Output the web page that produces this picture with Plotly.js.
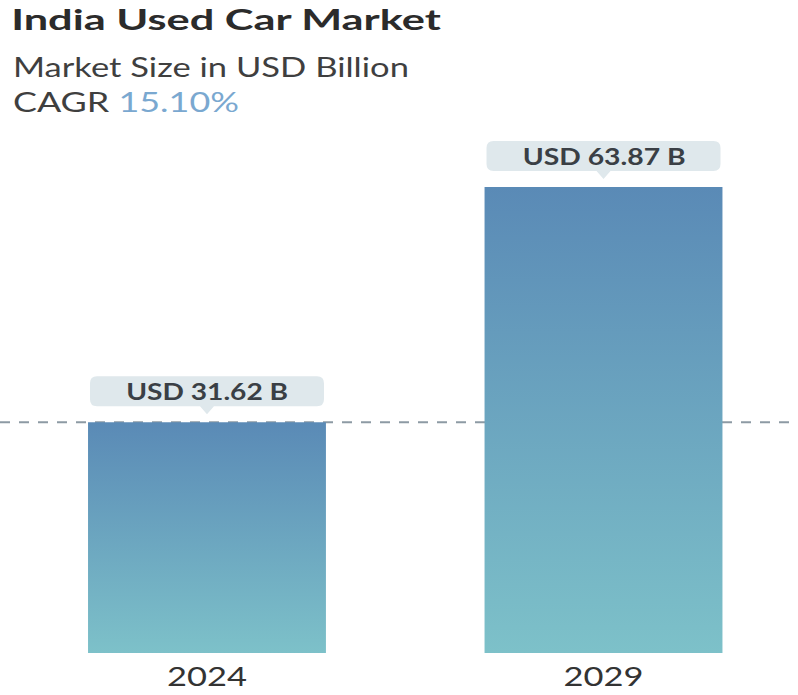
<!DOCTYPE html>
<html>
<head>
<meta charset="utf-8">
<script src="https://cdn.plot.ly/plotly-3.0.1.min.js"></script>
<style>
  html, body { margin: 0; padding: 0; background: #fff; }
  #chart { width: 798px; height: 695px; }
</style>
</head>
<body>
<div id="chart"></div>
<script>
// ---- data ----
const years = ["2024", "2029"];
const marketSize = [31.62, 63.87];
const valueLabels = ["USD 31.62 B", "USD 63.87 B"];
const chartTitle = "India Used Car Market";
const subtitle = "Market Size in USD Billion";
const cagrLabel = "CAGR";
const cagrValue = "15.10%";

const FONT = "Lato, 'Open Sans', sans-serif";

const trace = {
  type: "bar",
  x: years,
  y: marketSize,
  width: 0.6,
  marker: { color: "#6aa5c0", line: { width: 0 } },
  hoverinfo: "none"
};

// callout box (rounded rect + small pointer), in pixels relative to the bar top
function calloutPath() {
  const w = 117, h = 30, r = 7, gap = 16, tip = 8, tw = 7;
  const b = gap;
  const t = gap + h;
  return `M ${-w + r},${b} L ${-tw},${b} L 0,${b - tip} L ${tw},${b} L ${w - r},${b} ` +
         `Q ${w},${b} ${w},${b + r} L ${w},${t - r} Q ${w},${t} ${w - r},${t} ` +
         `L ${-w + r},${t} Q ${-w},${t} ${-w},${t - r} L ${-w},${b + r} Q ${-w},${b} ${-w + r},${b} Z`;
}

const shapes = [
  {
    type: "line", xref: "paper", x0: 0, x1: 1,
    yref: "y", y0: marketSize[0], y1: marketSize[0],
    line: { color: "#8d9aa4", width: 2, dash: "10px,9px" },
    layer: "below"
  }
];
years.forEach((yr, i) => {
  shapes.push({
    type: "path",
    xref: "x", yref: "y",
    xsizemode: "pixel", ysizemode: "pixel",
    xanchor: i, yanchor: marketSize[i],
    path: calloutPath(),
    fillcolor: "#dfe8ec",
    line: { width: 0 },
    layer: "above"
  });
});

const annotations = [
  {
    xref: "paper", yref: "paper", x: 0.014, y: 1,
    xanchor: "left", yanchor: "middle", yshift: 74,
    text: subtitle, showarrow: false,
    font: { family: FONT, size: 27, color: "#3f3f3f" }
  },
  {
    xref: "paper", yref: "paper", x: 0.014, y: 1,
    xanchor: "left", yanchor: "middle", yshift: 38,
    text: cagrLabel + ' <span style="color:#7aa8d0">' + cagrValue + '</span>',
    showarrow: false,
    font: { family: FONT, size: 26, color: "#3f3f3f" }
  }
];
years.forEach((yr, i) => {
  annotations.push({
    xref: "x", yref: "y", x: i, y: marketSize[i],
    xanchor: "center", yanchor: "middle", yshift: 31,
    text: valueLabels[i], showarrow: false,
    font: { family: FONT, size: 23, color: "#3a3f45", weight: 700 }
  });
});

const layout = {
  width: 798, height: 695,
  margin: { l: 0, r: 0, t: 140, b: 42, pad: 0 },
  paper_bgcolor: "#ffffff",
  plot_bgcolor: "rgba(0,0,0,0)",
  showlegend: false,
  title: {
    text: "<b>" + chartTitle + "</b>",
    x: 0.014, xanchor: "left", xref: "paper",
    y: 0.971, yanchor: "middle", yref: "container",
    font: { family: FONT, size: 29, color: "#2b2b2b" }
  },
  xaxis: {
    type: "category",
    range: [-0.522, 1.4905],
    showgrid: false, zeroline: false, showline: false,
    ticks: "", ticklabelstandoff: 6,
    tickfont: { family: FONT, size: 26, color: "#333333" },
    fixedrange: true
  },
  yaxis: {
    range: [0, 70.31],
    visible: false, showgrid: false, zeroline: false,
    fixedrange: true
  },
  shapes: shapes,
  annotations: annotations
};

// widen text horizontally to match the reference's proportions
function stretchTo(el, targetW, anchor) {
  if (!el) return;
  const r = el.getBoundingClientRect();
  if (!r.width) return;
  const s = targetW / r.width;
  const ctm = el.parentNode.getScreenCTM();
  const sx = anchor === "start" ? r.left : (r.left + r.right) / 2;
  const px = (sx - ctm.e) / ctm.a;
  const ex = el.getAttribute("transform") || "";
  el.setAttribute("transform", `translate(${px},0) scale(${s},1) translate(${-px},0) ${ex}`);
}

Plotly.newPlot("chart", [trace], layout, { displayModeBar: false, staticPlot: true }).then(gd => {
  const svg = gd.querySelector("svg.main-svg");
  const ns = "http://www.w3.org/2000/svg";
  let defs = svg.querySelector("defs");
  if (!defs) { defs = document.createElementNS(ns, "defs"); svg.insertBefore(defs, svg.firstChild); }
  const grad = document.createElementNS(ns, "linearGradient");
  grad.setAttribute("id", "barGrad");
  grad.setAttribute("x1", "0"); grad.setAttribute("y1", "0");
  grad.setAttribute("x2", "0"); grad.setAttribute("y2", "1");
  [["0", "#5a8ab6"], ["1", "#7dc1c9"]].forEach(([o, c]) => {
    const s = document.createElementNS(ns, "stop");
    s.setAttribute("offset", o); s.setAttribute("stop-color", c);
    grad.appendChild(s);
  });
  defs.appendChild(grad);
  gd.querySelectorAll(".bars .point path").forEach(p => { p.style.fill = "url(#barGrad)"; });

  stretchTo(gd.querySelector(".gtitle"), 430, "start");
  stretchTo(gd.querySelector('.annotation[data-index="0"] text'), 396, "start");
  stretchTo(gd.querySelector('.annotation[data-index="1"] text'), 226, "start");
  stretchTo(gd.querySelector('.annotation[data-index="2"] text'), 162, "middle");
  stretchTo(gd.querySelector('.annotation[data-index="3"] text'), 163, "middle");
  gd.querySelectorAll(".xtick text").forEach(t => stretchTo(t, 80, "middle"));
});
</script>
</body>
</html>
